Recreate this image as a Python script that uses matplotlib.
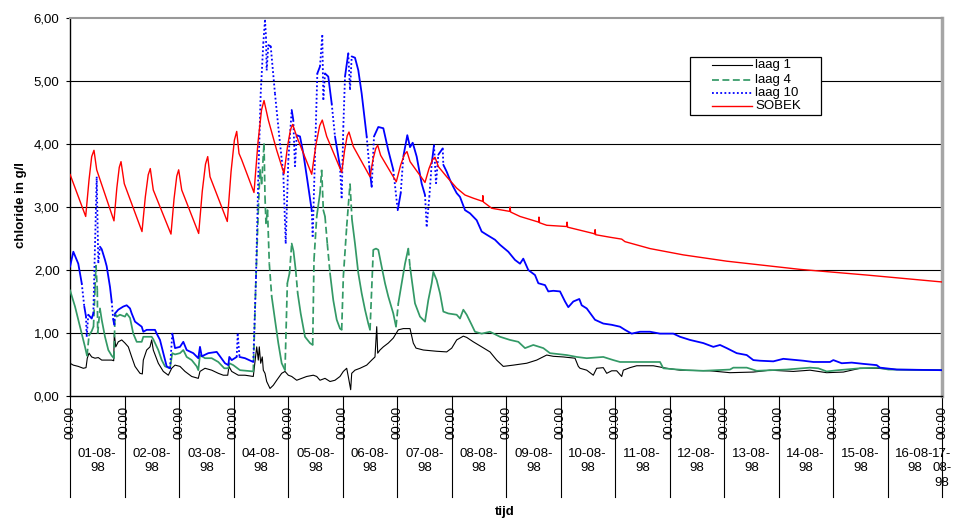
import numpy as np
import matplotlib
matplotlib.use('Agg')
import matplotlib.pyplot as plt
import matplotlib.transforms as mtrans
from matplotlib.collections import LineCollection
from matplotlib.lines import Line2D
from matplotlib.patches import Rectangle

plt.rcParams['font.family'] = ['Liberation Sans', 'DejaVu Sans']

# ── data: time in days after 01-08-98 00:00, chloride in g/l ────────────────
t_laag1 = [0.000, 0.061, 0.152, 0.244, 0.294, 0.317, 0.349, 0.398, 0.459, 0.519,
           0.582, 0.765, 0.802, 0.813, 0.839, 0.886, 0.949, 1.009, 1.070, 1.132,
           1.193, 1.284, 1.327, 1.345, 1.407, 1.468, 1.499, 1.528, 1.620, 1.712,
           1.804, 1.866, 1.927, 2.018, 2.110, 2.233, 2.354, 2.385, 2.477, 2.600,
           2.721, 2.813, 2.894, 2.917, 2.967, 3.088, 3.211, 3.363, 3.426, 3.455,
           3.473, 3.499, 3.528, 3.547, 3.578, 3.609, 3.670, 3.730, 3.793, 3.884,
           3.945, 4.006, 4.068, 4.160, 4.251, 4.343, 4.464, 4.527, 4.587, 4.679,
           4.771, 4.862, 4.954, 5.015, 5.077, 5.106, 5.150, 5.169, 5.229, 5.321,
           5.444, 5.536, 5.596, 5.628, 5.646, 5.688, 5.749, 5.840, 5.932, 6.024,
           6.116, 6.239, 6.299, 6.349, 6.483, 6.728, 6.912, 7.004, 7.095, 7.217,
           7.279, 7.400, 7.554, 7.706, 7.829, 7.950, 8.134, 8.380, 8.563, 8.747,
           8.868, 9.051, 9.266, 9.327, 9.358, 9.481, 9.602, 9.664, 9.785, 9.848,
           9.939, 10.031, 10.123, 10.153, 10.275, 10.398, 10.703, 10.948, 11.193, 11.743,
           12.110, 12.538, 12.844, 13.272, 13.578, 13.884, 14.190, 14.495, 14.802, 15.168,
           16.000]
c_laag1 = [0.52, 0.49, 0.47, 0.44, 0.45, 0.60, 0.68, 0.62, 0.60, 0.61,
           0.57, 0.57, 0.56, 0.99, 0.78, 0.86, 0.89, 0.84, 0.78, 0.62,
           0.47, 0.36, 0.35, 0.57, 0.73, 0.78, 0.89, 0.73, 0.52, 0.39,
           0.33, 0.44, 0.49, 0.47, 0.39, 0.31, 0.28, 0.39, 0.44, 0.41,
           0.36, 0.33, 0.33, 0.47, 0.39, 0.33, 0.33, 0.31, 0.78, 0.57,
           0.78, 0.52, 0.62, 0.41, 0.36, 0.23, 0.12, 0.17, 0.25, 0.36,
           0.39, 0.33, 0.31, 0.25, 0.28, 0.31, 0.33, 0.31, 0.25, 0.28,
           0.23, 0.25, 0.31, 0.39, 0.44, 0.31, 0.10, 0.36, 0.41, 0.44,
           0.49, 0.57, 0.62, 1.10, 0.68, 0.73, 0.78, 0.84, 0.92, 1.05,
           1.07, 1.07, 0.84, 0.76, 0.73, 0.71, 0.70, 0.76, 0.89, 0.95,
           0.93, 0.86, 0.78, 0.70, 0.57, 0.47, 0.49, 0.52, 0.57, 0.65,
           0.63, 0.62, 0.60, 0.47, 0.44, 0.41, 0.33, 0.44, 0.45, 0.36,
           0.40, 0.40, 0.31, 0.41, 0.45, 0.48, 0.48, 0.44, 0.41, 0.40,
           0.37, 0.38, 0.41, 0.39, 0.41, 0.37, 0.38, 0.44, 0.44, 0.42,
           0.41]

t_laag4 = [0.000, 0.092, 0.152, 0.215, 0.275, 0.312, 0.349, 0.398, 0.431, 0.459,
           0.477, 0.501, 0.508, 0.550, 0.582, 0.642, 0.703, 0.765, 0.807, 0.826,
           0.857, 0.917, 1.009, 1.040, 1.101, 1.161, 1.224, 1.316, 1.345, 1.499,
           1.528, 1.620, 1.683, 1.743, 1.835, 1.877, 1.927, 2.018, 2.079, 2.141,
           2.233, 2.325, 2.354, 2.385, 2.477, 2.600, 2.721, 2.831, 2.905, 2.923,
           2.996, 3.119, 3.363, 3.413, 3.455, 3.486, 3.517, 3.560, 3.578, 3.596,
           3.624, 3.657, 3.701, 3.761, 3.822, 3.884, 3.945, 3.988, 4.028, 4.068,
           4.101, 4.141, 4.178, 4.233, 4.312, 4.404, 4.453, 4.477, 4.527, 4.587,
           4.618, 4.648, 4.679, 4.721, 4.771, 4.831, 4.894, 4.954, 4.985, 5.015,
           5.077, 5.138, 5.174, 5.229, 5.290, 5.352, 5.413, 5.473, 5.505, 5.565,
           5.615, 5.657, 5.719, 5.780, 5.840, 5.932, 5.982, 6.024, 6.086, 6.147,
           6.207, 6.239, 6.330, 6.422, 6.514, 6.574, 6.637, 6.666, 6.728, 6.789,
           6.850, 6.941, 7.095, 7.156, 7.217, 7.279, 7.370, 7.431, 7.554, 7.706,
           7.890, 8.073, 8.226, 8.349, 8.501, 8.685, 8.807, 9.114, 9.297, 9.481,
           9.785, 9.969, 10.092, 10.398, 10.826, 10.886, 11.009, 11.315, 11.620, 12.110,
           12.171, 12.417, 12.600, 13.150, 13.578, 13.730, 13.884, 14.097, 14.495, 14.831,
           15.015, 16.000]
c_laag4 = [1.68, 1.42, 1.21, 0.99, 0.78, 0.64, 0.96, 1.03, 1.10, 1.70,
           2.08, 1.68, 0.99, 1.39, 1.21, 0.94, 0.73, 0.64, 0.60, 1.31,
           1.26, 1.29, 1.26, 1.31, 1.24, 0.99, 0.86, 0.86, 0.94, 0.94,
           0.90, 0.73, 0.57, 0.47, 0.44, 0.68, 0.66, 0.68, 0.73, 0.62,
           0.57, 0.47, 0.41, 0.65, 0.60, 0.60, 0.54, 0.44, 0.44, 0.52,
           0.49, 0.41, 0.39, 1.89, 2.95, 3.59, 3.37, 4.01, 3.16, 2.74,
           2.95, 2.10, 1.58, 1.21, 0.84, 0.52, 0.41, 1.79, 1.95, 2.42,
           2.30, 2.00, 1.63, 1.31, 0.94, 0.84, 0.81, 2.16, 2.85, 3.22,
           3.59, 2.95, 2.85, 2.42, 1.95, 1.52, 1.21, 1.07, 1.05, 1.89,
           2.69, 3.37, 2.80, 2.42, 1.95, 1.63, 1.37, 1.15, 1.05, 2.32,
           2.34, 2.32, 2.05, 1.79, 1.58, 1.31, 1.10, 1.47, 1.79, 2.10,
           2.34, 2.05, 1.47, 1.26, 1.18, 1.52, 1.79, 1.97, 1.84, 1.63,
           1.34, 1.31, 1.29, 1.23, 1.37, 1.29, 1.13, 1.02, 0.99, 1.02,
           0.94, 0.89, 0.86, 0.76, 0.81, 0.76, 0.68, 0.65, 0.62, 0.60,
           0.62, 0.57, 0.54, 0.54, 0.54, 0.44, 0.43, 0.41, 0.40, 0.42,
           0.45, 0.45, 0.40, 0.42, 0.45, 0.44, 0.39, 0.41, 0.44, 0.45,
           0.42, 0.41]

t_laag10 = [0.000, 0.061, 0.152, 0.215, 0.262, 0.294, 0.306, 0.336, 0.398, 0.428,
            0.490, 0.519, 0.550, 0.582, 0.642, 0.673, 0.734, 0.765, 0.794, 0.813,
            0.826, 0.886, 0.978, 1.040, 1.101, 1.132, 1.193, 1.316, 1.345, 1.407,
            1.560, 1.591, 1.651, 1.712, 1.774, 1.835, 1.877, 1.927, 2.018, 2.079,
            2.141, 2.262, 2.354, 2.385, 2.417, 2.538, 2.692, 2.752, 2.844, 2.905,
            2.923, 2.967, 3.059, 3.077, 3.110, 3.211, 3.363, 3.413, 3.455, 3.499,
            3.547, 3.578, 3.596, 3.609, 3.639, 3.683, 3.761, 3.853, 3.914, 3.958,
            4.006, 4.068, 4.097, 4.128, 4.160, 4.220, 4.281, 4.354, 4.435, 4.453,
            4.538, 4.587, 4.629, 4.648, 4.679, 4.739, 4.802, 4.862, 4.954, 4.985,
            5.015, 5.046, 5.106, 5.138, 5.169, 5.229, 5.290, 5.352, 5.444, 5.492,
            5.536, 5.578, 5.657, 5.749, 5.840, 5.932, 6.013, 6.068, 6.116, 6.189,
            6.239, 6.288, 6.361, 6.453, 6.514, 6.545, 6.593, 6.637, 6.679, 6.716,
            6.758, 6.839, 6.850, 6.912, 6.972, 7.033, 7.095, 7.156, 7.248, 7.339,
            7.462, 7.554, 7.646, 7.798, 7.890, 8.042, 8.165, 8.257, 8.317, 8.409,
            8.532, 8.593, 8.716, 8.776, 8.868, 8.991, 9.083, 9.143, 9.235, 9.345,
            9.389, 9.481, 9.633, 9.785, 9.939, 10.092, 10.183, 10.306, 10.459, 10.642,
            10.826, 11.070, 11.193, 11.376, 11.620, 11.804, 11.927, 12.050, 12.233, 12.417,
            12.538, 12.661, 12.905, 13.088, 13.455, 13.639, 13.945, 14.006, 14.160, 14.343,
            14.556, 14.802, 14.862, 15.168, 16.000]
c_laag10 = [2.05, 2.29, 2.10, 1.79, 1.42, 1.26, 0.94, 1.29, 1.23, 1.31,
            3.48, 2.11, 2.37, 2.33, 2.16, 2.06, 1.73, 1.50, 1.21, 1.13,
            1.31, 1.37, 1.42, 1.44, 1.39, 1.31, 1.18, 1.10, 1.02, 1.05,
            1.05, 0.99, 0.89, 0.68, 0.47, 0.44, 0.99, 0.76, 0.78, 0.86,
            0.73, 0.68, 0.60, 0.78, 0.63, 0.68, 0.70, 0.63, 0.52, 0.49,
            0.62, 0.57, 0.62, 0.99, 0.62, 0.60, 0.54, 1.89, 3.48, 4.80,
            5.60, 5.97, 5.70, 5.17, 5.57, 5.55, 4.80, 4.01, 3.53, 2.42,
            3.75, 4.54, 4.38, 3.64, 4.14, 4.12, 3.85, 3.43, 2.95, 2.53,
            5.12, 5.23, 5.73, 4.70, 5.12, 5.07, 4.64, 4.12, 3.64, 3.14,
            4.27, 5.07, 5.44, 4.86, 5.39, 5.37, 5.17, 4.80, 4.12, 3.64,
            3.32, 4.12, 4.27, 4.25, 3.90, 3.59, 2.95, 3.22, 3.80, 4.14,
            3.95, 4.02, 3.80, 3.37, 3.19, 2.69, 3.16, 3.69, 3.98, 3.37,
            3.83, 3.93, 3.67, 3.56, 3.43, 3.32, 3.22, 3.16, 2.95, 2.90,
            2.79, 2.61, 2.56, 2.48, 2.40, 2.29, 2.16, 2.10, 2.18, 2.00,
            1.92, 1.79, 1.76, 1.66, 1.67, 1.66, 1.50, 1.41, 1.50, 1.54,
            1.44, 1.39, 1.21, 1.15, 1.13, 1.10, 1.05, 0.99, 1.02, 1.02,
            0.99, 0.99, 0.94, 0.89, 0.84, 0.78, 0.81, 0.76, 0.68, 0.65,
            0.57, 0.56, 0.55, 0.59, 0.56, 0.54, 0.54, 0.57, 0.52, 0.53,
            0.51, 0.49, 0.45, 0.42, 0.41]

t_sobek = [0.000, 0.288, 0.349, 0.398, 0.440, 0.490, 0.807, 0.859, 0.904, 0.936,
           0.996, 1.321, 1.382, 1.435, 1.473, 1.528, 1.853, 1.909, 1.959, 1.994,
           2.050, 2.361, 2.427, 2.486, 2.527, 2.569, 2.886, 2.955, 3.016, 3.059,
           3.101, 3.150, 3.376, 3.450, 3.514, 3.560, 3.639, 3.793, 3.927, 3.991,
           4.046, 4.086, 4.160, 4.435, 4.513, 4.581, 4.629, 4.710, 4.985, 5.039,
           5.086, 5.119, 5.198, 5.505, 5.561, 5.611, 5.646, 5.700, 5.987, 6.065,
           6.134, 6.183, 6.240, 6.514, 6.587, 6.651, 6.697, 6.760, 6.912, 7.095,
           7.248, 7.400, 7.570, 7.575, 7.585, 7.738, 8.070, 8.075, 8.085, 8.257,
           8.600, 8.605, 8.615, 8.747, 9.114, 9.120, 9.130, 9.602, 9.630, 9.635,
           9.645, 9.908, 10.123, 10.183, 10.642, 11.253, 12.050, 13.394, 14.618, 16.000]
c_sobek = [3.52, 2.85, 3.43, 3.80, 3.90, 3.59, 2.78, 3.30, 3.63, 3.72,
           3.37, 2.61, 3.16, 3.51, 3.61, 3.27, 2.57, 3.13, 3.49, 3.59,
           3.27, 2.58, 3.25, 3.68, 3.80, 3.48, 2.77, 3.56, 4.06, 4.20,
           3.85, 3.75, 3.23, 4.03, 4.54, 4.69, 4.38, 3.90, 3.53, 3.96,
           4.23, 4.31, 4.12, 3.52, 3.99, 4.29, 4.38, 4.12, 3.55, 3.90,
           4.13, 4.19, 3.96, 3.48, 3.76, 3.93, 3.98, 3.82, 3.40, 3.66,
           3.83, 3.88, 3.72, 3.39, 3.61, 3.75, 3.79, 3.64, 3.48, 3.30,
           3.19, 3.14, 3.09, 3.18, 3.08, 2.98, 2.93, 3.00, 2.92, 2.85,
           2.76, 2.84, 2.75, 2.71, 2.69, 2.76, 2.68, 2.58, 2.57, 2.64,
           2.56, 2.52, 2.49, 2.45, 2.34, 2.24, 2.14, 2.01, 1.92, 1.81]

day_labels = ['01-08-\n98', '02-08-\n98', '03-08-\n98', '04-08-\n98',
              '05-08-\n98', '06-08-\n98', '07-08-\n98', '08-08-\n98',
              '09-08-\n98', '10-08-\n98', '11-08-\n98', '12-08-\n98',
              '13-08-\n98', '14-08-\n98', '15-08-\n98', '16-08-\n98']
last_label = '17-\n08-\n98'
y_labels = ['0,00', '1,00', '2,00', '3,00', '4,00', '5,00', '6,00']

GREEN = '#339966'
DASH4 = (4, 2)
DOT10 = (1, 1.3)

# ── figure / axes ────────────────────────────────────────────────────────────
W, H = 963, 518
fig = plt.figure(figsize=(W / 100, H / 100), dpi=100)
fig.patch.set_facecolor('white')
ax = fig.add_axes([70 / W, 1 - 396 / H, 872 / W, 378 / H])
ax.set_xlim(0, 16)
ax.set_ylim(0, 6)

for y in range(1, 6):
    ax.axhline(y, color='black', lw=0.8, zorder=1)

for side, col, lw in [('left', 'black', 1.0), ('bottom', 'black', 1.0),
                      ('top', '#999999', 1.5), ('right', '#a6a6a6', 2.5)]:
    ax.spines[side].set_color(col)
    ax.spines[side].set_linewidth(lw)


def draw_layer(t, c, color, lw, dash=None, z=2):
    # gentle stretches are drawn solid; steep jumps get the dash pattern,
    # restarted on every segment
    pts = np.column_stack([t, c]).astype(float)
    disp = ax.transData.transform(pts)
    dx, dy = np.abs(np.diff(disp, axis=0)).T
    steep = (dy > 9 * dx) if dash else np.zeros(len(dx), bool)
    runs, jumps, cur = [], [], [0]
    for i, s in enumerate(steep):
        if s:
            if len(cur) > 1:
                runs.append(pts[cur])
            jumps.append(pts[i:i + 2])
            cur = [i + 1]
        else:
            cur.append(i + 1)
    if len(cur) > 1:
        runs.append(pts[cur])
    ax.add_collection(LineCollection(runs, colors=color, linewidths=lw,
                                     capstyle='round', joinstyle='round', zorder=z))
    if jumps:
        ax.add_collection(LineCollection(jumps, colors=color, linewidths=lw,
                                         linestyles=[(0, dash)], capstyle='butt', zorder=z))


draw_layer(t_laag1, c_laag1, 'black', 0.8, None, 2)
draw_layer(t_laag4, c_laag4, GREEN, 1.25, DASH4, 3)
draw_layer(t_laag10, c_laag10, '#0000ff', 1.3, DOT10, 4)
draw_layer(t_sobek, c_sobek, '#ff0000', 1.0, None, 5)

# ── axes ticks and labels ────────────────────────────────────────────────────
ax.set_yticks(range(7))
ax.set_yticklabels(y_labels, fontsize=9.5)
ax.tick_params(axis='y', length=3, width=0.8, pad=4.5)

ax.set_xticks(range(17))
ax.set_xticklabels(['00:00'] * 17, rotation=90, fontsize=9.5)
ax.tick_params(axis='x', length=0, pad=7)

blend = mtrans.blended_transform_factory(ax.transData, ax.transAxes)
for i in range(17):
    ax.plot([i, i], [0, -101 / 378], transform=blend, color='black', lw=0.8,
            clip_on=False, zorder=1)
for i, lab in enumerate(day_labels):
    ax.text(i + 0.5, -52 / 378, lab, transform=blend, ha='center', va='top',
            fontsize=9.5, linespacing=1.25)
ax.text(16, -52 / 378, last_label, transform=blend, ha='center', va='top',
        fontsize=9.5, linespacing=1.25)

fig.text(21 / W, 1 - 205 / H, 'chloride in g/l', rotation=90, ha='center',
         va='center', fontsize=9.5, fontweight='bold')
fig.text(505 / W, 1 - 512 / H, 'tijd', ha='center', va='center',
         fontsize=9.5, fontweight='bold')

# ── legend ───────────────────────────────────────────────────────────────────
def fx(px):
    return px / W


def fy(py):
    return 1 - py / H


fig.add_artist(Rectangle((fx(690), fy(115)), 131 / W, 58 / H, transform=fig.transFigure,
                         facecolor='white', edgecolor='black', lw=0.9, zorder=10))
entries = [('laag 1', 'black', 0.8, '-'), ('laag 4', GREEN, 1.25, (0, DASH4)),
           ('laag 10', '#0000ff', 1.3, (0, DOT10)), ('SOBEK', '#ff0000', 1.0, '-')]
for (lab, col, lw, ls), py in zip(entries, [65, 79.5, 93, 106]):
    fig.add_artist(Line2D([fx(712), fx(752)], [fy(py), fy(py)], transform=fig.transFigure,
                          color=col, lw=lw, linestyle=ls, zorder=11))
    fig.text(fx(755), fy(py), lab, ha='left', va='center', fontsize=9.5, zorder=11)

fig.savefig('out.png', dpi=100)
